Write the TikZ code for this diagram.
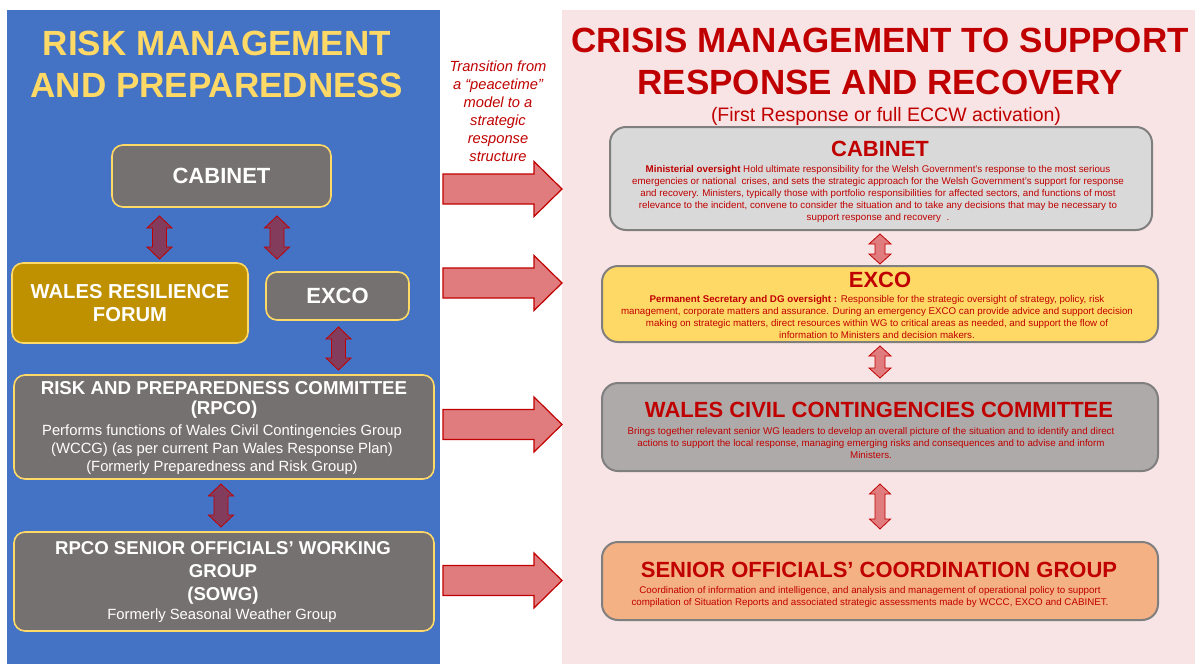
\documentclass[tikz,border=0pt]{standalone}
\usepackage{fontspec}
\setmainfont{Liberation Sans}
\usetikzlibrary{calc}

\definecolor{panelblue}{HTML}{4472C4}
\definecolor{panelpink}{HTML}{F9E4E5}
\definecolor{headyellow}{HTML}{FFD966}
\definecolor{lgray}{HTML}{767171}
\definecolor{lgold}{HTML}{BF9000}
\definecolor{darkred}{HTML}{C00000}
\definecolor{plum}{HTML}{843C5C}
\definecolor{salmonarrow}{HTML}{E07C7E}
\definecolor{rborder}{HTML}{7F7F7F}
\definecolor{cabfill}{HTML}{D9D9D9}
\definecolor{excofill}{HTML}{FFD966}
\definecolor{wcccfill}{HTML}{AEAAAA}
\definecolor{socgfill}{HTML}{F4B183}

% vertical double-headed block arrow: x, top y, bottom y, head half-width, shaft half-width, head length, style
\newcommand\vdblarrow[7]{%
  \draw[#7] (#1,#2) -- (#1+#4,#2+#6) -- (#1+#5,#2+#6) -- (#1+#5,#3-#6) -- (#1+#4,#3-#6)
    -- (#1,#3) -- (#1-#4,#3-#6) -- (#1-#5,#3-#6) -- (#1-#5,#2+#6) -- (#1-#4,#2+#6) -- cycle;}
% horizontal block arrow pointing right, centred on y
\newcommand\rightblockarrow[1]{%
  \draw[bigarrow] (443,#1-15) -- (534,#1-15) -- (534,#1-27.5) -- (562,#1)
    -- (534,#1+27.5) -- (534,#1+15) -- (443,#1+15) -- cycle;}

\begin{document}
\begin{tikzpicture}[x=1pt,y=-1pt,
  lbox/.style={draw=headyellow, line width=1.6pt, fill=lgray, rounded corners=11pt, inner sep=0pt},
  rbox/.style={draw=rborder, line width=2pt, rounded corners=16pt, inner sep=0pt},
  wbold/.style={text=white, font=\bfseries\fontsize{22}{26}\selectfont, align=center, inner sep=0pt},
  wplain/.style={text=white, font=\fontsize{14.8}{18}\selectfont, align=center, inner sep=0pt},
  rtitle/.style={text=darkred, font=\bfseries\fontsize{22}{26}\selectfont, align=center, inner sep=0pt},
  rbody/.style={text=darkred, font=\fontsize{9.75}{12}\selectfont, align=center, inner sep=0pt},
  leftarrow/.style={fill=plum, draw=darkred, line width=0.8pt, line join=miter},
  smallarrow/.style={fill=salmonarrow, draw=darkred, line width=0.8pt, line join=miter},
  bigarrow/.style={fill=salmonarrow, draw=darkred, line width=1.2pt, line join=miter}]

\useasboundingbox (0,0) rectangle (1195,664);
\fill[white] (0,0) rectangle (1195,664);

% the two panels
\fill[panelblue] (7,10) rectangle (440,664);
\fill[panelpink] (562,10) rectangle (1195,664);

% ---- left panel: peacetime structure ----
\node[text=headyellow, font=\bfseries\fontsize{35}{42}\selectfont, align=center, inner sep=0pt]
  (lhead) at (217,64) {RISK MANAGEMENT\\AND PREPAREDNESS};

\node[lbox, minimum width=219pt, minimum height=62pt] (cabL) at (221.5,176) {};
\node[wbold] (cabLt) at (cabL.center) {CABINET};

\node[lbox, fill=lgold, minimum width=236pt, minimum height=80pt] (wrf) at (130,303) {};
\node[wbold, font=\bfseries\fontsize{20.2}{23}\selectfont] (wrft) at (wrf.center) {WALES RESILIENCE\\FORUM};

\node[lbox, minimum width=143pt, minimum height=48pt] (excoL) at (337.5,296) {};
\node[wbold] (excoLt) at (excoL.center) {EXCO};

\node[lbox, minimum width=420pt, minimum height=104pt] (rpco) at (224,427) {};
\node[wbold, font=\bfseries\fontsize{18.7}{20}\selectfont] (rpcot) at (224,400)
  {RISK AND PREPAREDNESS COMMITTEE\\(RPCO)};
\node[wplain] (rpcob) at (222,450)
  {Performs functions of Wales Civil Contingencies Group\\(WCCG) (as per current Pan Wales Response Plan)\\(Formerly Preparedness and Risk Group)};

\node[lbox, minimum width=420pt, minimum height=99pt] (sowg) at (224,581.5) {};
\node[wbold, font=\bfseries\fontsize{18.6}{23}\selectfont] (sowgt) at (223,573)
  {RPCO SENIOR OFFICIALS’ WORKING\\GROUP\\(SOWG)};
\node[wplain] (sowgb) at (222,616) {Formerly Seasonal Weather Group};

% links between the peacetime bodies
\vdblarrow{159.5}{216}{259}{12.5}{7}{12}{leftarrow}
\vdblarrow{277}{216}{259}{12.5}{7}{12}{leftarrow}
\vdblarrow{338.5}{327}{370}{12.5}{7}{12}{leftarrow}
\vdblarrow{221}{484}{527}{12.5}{7}{12}{leftarrow}

% ---- transition ----
\node[text=darkred, font=\itshape\fontsize{14.7}{18}\selectfont, align=center, inner sep=0pt]
  (trans) at (498,111) {Transition from\\a “peacetime”\\model to a\\strategic\\response\\structure};
\rightblockarrow{189}
\rightblockarrow{283}
\rightblockarrow{424.5}
\rightblockarrow{580.5}

% ---- right panel: response structure ----
\node[text=darkred, font=\bfseries\fontsize{35}{42}\selectfont, align=center, inner sep=0pt]
  (rhead) at (880,61) {CRISIS MANAGEMENT TO SUPPORT\\RESPONSE AND RECOVERY};
\node[text=darkred, font=\fontsize{19.5}{22}\selectfont, inner sep=0pt] (rsub) at (886,116)
  {(First Response or full ECCW activation)};

\node[rbox, fill=cabfill, minimum width=542pt, minimum height=103pt] (cabR) at (881,178.5) {};
\node[rtitle] (cabRt) at (880,149) {CABINET};
\node[rbody] (cabRb) at (878,193.5)
  {\textbf{Ministerial oversight} Hold ultimate responsibility for the Welsh Government’s response to the most serious\\
   emergencies or national\ \ crises, and sets the strategic approach for the Welsh Government’s support for response\\
   and recovery. Ministers, typically those with portfolio responsibilities for affected sectors, and functions of most\\
   relevance to the incident, convene to consider the situation and to take any decisions that may be necessary to\\
   support response and recovery\ \ .};

\node[rbox, fill=excofill, minimum width=556pt, minimum height=76pt] (excoR) at (880,304) {};
\node[rtitle] (excoRt) at (880,280) {EXCO};
\node[rbody] (excoRb) at (877,317)
  {\textbf{Permanent Secretary and DG oversight :} Responsible for the strategic oversight of strategy, policy, risk\\
   management, corporate matters and assurance. During an emergency EXCO can provide advice and support decision\\
   making on\ strategic matters, direct resources within WG to critical areas as needed, and support the flow of\\
   information to Ministers and decision makers.};

\node[rbox, fill=wcccfill, minimum width=556pt, minimum height=88pt] (wccc) at (880,427) {};
\node[rtitle] (wccct) at (879,410) {WALES CIVIL CONTINGENCIES COMMITTEE};
\node[rbody] (wcccb) at (871,443)
  {Brings together relevant senior WG leaders to develop an overall picture of the situation and to identify and direct\\
   actions to support the local response, managing emerging risks and consequences and to advise and inform\\
   Ministers.};

\node[rbox, fill=socgfill, minimum width=556pt, minimum height=78pt] (socg) at (880,581) {};
\node[rtitle] (socgt) at (879,570) {SENIOR OFFICIALS’ COORDINATION GROUP};
\node[rbody] (socgb) at (870,597)
  {Coordination of information and intelligence, and analysis and management of operational policy to support\\
   compilation of Situation Reports and associated strategic assessments made by WCCC, EXCO and CABINET.};

% links between the response bodies
\vdblarrow{880}{234}{264}{11}{5}{10}{smallarrow}
\vdblarrow{880}{346}{378}{11}{5}{10}{smallarrow}
\vdblarrow{880}{484}{529}{10.5}{5}{10}{smallarrow}

\end{tikzpicture}
\end{document}
